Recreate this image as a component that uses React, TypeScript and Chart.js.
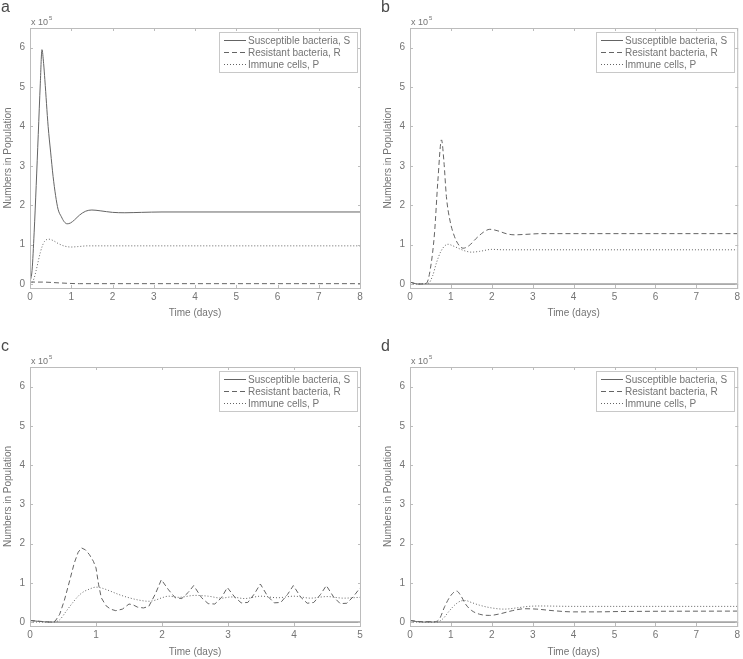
import React, { useEffect, useRef } from 'react';
import { Chart, registerables } from 'chart.js';

Chart.register(...registerables);

type Pt = [number, number];

// ---- shared labels / ticks ----
const SERIES_LABELS = ['Susceptible bacteria, S', 'Resistant bacteria, R', 'Immune cells, P'];
const X_TITLE = 'Time (days)';
const Y_TITLE = 'Numbers in Population';
const Y_TICKS = [0, 1, 2, 3, 4, 5, 6];
const X_TICKS_8 = [0, 1, 2, 3, 4, 5, 6, 7, 8];
const X_TICKS_5 = [0, 1, 2, 3, 4, 5];
const Y_MIN = -0.1;
const Y_MAX = 6.5;
const EXPONENT = '5';

// ---- data (values in units of 10^5), [time (days), value] ----
const A_S: Pt[] = [[0, 0.05], [0.05, 0.35], [0.1, 1.3], [0.15, 2.5], [0.2, 3.8], [0.25, 5.1], [0.29, 5.95], [0.33, 5.6], [0.36, 5.19], [0.44, 4.0], [0.5, 3.35], [0.56, 2.73], [0.62, 2.25], [0.68, 1.9], [0.76, 1.71], [0.83, 1.58], [0.9, 1.53], [0.98, 1.55], [1.08, 1.63], [1.2, 1.75], [1.35, 1.85], [1.5, 1.88], [1.7, 1.86], [2.0, 1.82], [2.3, 1.81], [2.7, 1.82], [3.2, 1.83], [8, 1.83]];
const A_R: Pt[] = [[0, 0.05], [0.3, 0.05], [0.7, 0.03], [1.2, 0.01], [8, 0.01]];
const A_P: Pt[] = [[0, 0], [0.05, 0.03], [0.1, 0.15], [0.15, 0.35], [0.2, 0.58], [0.25, 0.8], [0.3, 0.97], [0.35, 1.08], [0.45, 1.14], [0.55, 1.11], [0.7, 1.02], [0.85, 0.96], [1.0, 0.94], [1.15, 0.95], [1.4, 0.97], [1.8, 0.97], [8, 0.97]];

const B_S: Pt[] = [[0, 0.05], [0.2, 0], [8, 0]];
const B_R: Pt[] = [[0, 0.05], [0.2, 0.0], [0.4, 0.02], [0.5, 0.4], [0.6, 1.3], [0.68, 2.6], [0.77, 3.66], [0.83, 3.1], [0.89, 2.22], [0.98, 1.6], [1.09, 1.2], [1.2, 0.98], [1.3, 0.91], [1.45, 0.98], [1.6, 1.14], [1.8, 1.32], [1.95, 1.39], [2.15, 1.35], [2.35, 1.28], [2.55, 1.25], [2.8, 1.26], [3.2, 1.28], [8, 1.28]];
const B_P: Pt[] = [[0, 0], [0.45, 0.02], [0.55, 0.2], [0.65, 0.55], [0.75, 0.82], [0.85, 0.97], [0.93, 1.01], [1.05, 0.97], [1.2, 0.9], [1.35, 0.84], [1.5, 0.81], [1.7, 0.83], [2.0, 0.88], [2.3, 0.87], [8, 0.87]];

const C_S: Pt[] = [[0, 0.04], [0.3, 0], [5, 0]];
const C_R: Pt[] = [[0, 0.04], [0.15, 0.02], [0.3, 0.0], [0.38, 0.02], [0.45, 0.2], [0.52, 0.55], [0.6, 1.05], [0.67, 1.5], [0.73, 1.78], [0.78, 1.89], [0.84, 1.84], [0.9, 1.72], [0.96, 1.55], [1.0, 1.38], [1.04, 0.95], [1.08, 0.62], [1.15, 0.42], [1.22, 0.33], [1.3, 0.29], [1.4, 0.33], [1.5, 0.46], [1.56, 0.44], [1.63, 0.38], [1.72, 0.36], [1.8, 0.4], [1.9, 0.72], [1.99, 1.08], [2.1, 0.82], [2.2, 0.62], [2.3, 0.6], [2.4, 0.76], [2.48, 0.93], [2.6, 0.62], [2.7, 0.47], [2.8, 0.46], [2.9, 0.62], [2.99, 0.88], [3.1, 0.64], [3.2, 0.49], [3.3, 0.5], [3.4, 0.72], [3.49, 0.97], [3.6, 0.66], [3.7, 0.49], [3.8, 0.5], [3.9, 0.7], [3.99, 0.93], [4.1, 0.64], [4.2, 0.48], [4.3, 0.5], [4.4, 0.7], [4.49, 0.93], [4.6, 0.64], [4.7, 0.47], [4.8, 0.48], [4.9, 0.65], [5.0, 0.87]];
const C_P: Pt[] = [[0, 0], [0.35, 0], [0.45, 0.06], [0.55, 0.28], [0.65, 0.5], [0.73, 0.66], [0.8, 0.76], [0.9, 0.84], [1.0, 0.89], [1.1, 0.86], [1.2, 0.8], [1.35, 0.7], [1.5, 0.62], [1.65, 0.56], [1.8, 0.53], [1.9, 0.56], [2.0, 0.62], [2.1, 0.66], [2.25, 0.63], [2.5, 0.68], [2.7, 0.66], [2.9, 0.61], [3.05, 0.64], [3.25, 0.6], [3.5, 0.66], [3.75, 0.62], [4.0, 0.66], [4.25, 0.61], [4.5, 0.65], [4.75, 0.61], [5.0, 0.63]];

const D_S: Pt[] = [[0, 0.04], [0.3, 0], [8, 0]];
const D_R: Pt[] = [[0, 0.04], [0.3, 0.01], [0.6, 0.01], [0.72, 0.08], [0.85, 0.4], [1.0, 0.68], [1.14, 0.79], [1.25, 0.66], [1.35, 0.47], [1.5, 0.3], [1.7, 0.2], [1.95, 0.17], [2.2, 0.21], [2.5, 0.29], [2.8, 0.34], [3.1, 0.33], [3.5, 0.29], [4.0, 0.26], [4.5, 0.26], [5.2, 0.27], [8, 0.28]];
const D_P: Pt[] = [[0, 0], [0.65, 0], [0.8, 0.08], [0.95, 0.27], [1.1, 0.44], [1.25, 0.54], [1.35, 0.55], [1.5, 0.5], [1.7, 0.43], [2.0, 0.36], [2.3, 0.33], [2.6, 0.36], [2.9, 0.4], [3.2, 0.41], [4.0, 0.4], [8, 0.4]];

// ---- styles ----
const FONT = '"Liberation Sans", Arial, Helvetica, sans-serif';
const TEXT_COLOR = '#747474';
const LINE_COLOR = '#646464';
const AXIS_COLOR = '#bcbcbc';
const LEGEND_BORDER = '#c8c8c8';
const DASHES: number[][] = [[], [5, 3], [1, 2]];

type PanelCfg = {
  letter: string;
  left: number; top: number; w: number; h: number;
  padTop: number; padRight: number; xAxisH: number; xTitlePad: number;
  xMax: number; xTicks: number[];
  series: Pt[][];
  straight: boolean[];
};

const PANELS: PanelCfg[] = [
  { letter: 'a', left: 0, top: 0, w: 372, h: 325, padTop: 28, padRight: 12, xAxisH: 37, xTitlePad: 6, xMax: 8, xTicks: X_TICKS_8, series: [A_S, A_R, A_P], straight: [false, false, false] },
  { letter: 'b', left: 380, top: 0, w: 363, h: 325, padTop: 28, padRight: 4, xAxisH: 37, xTitlePad: 6, xMax: 8, xTicks: X_TICKS_8, series: [B_S, B_R, B_P], straight: [false, false, false] },
  { letter: 'c', left: 0, top: 339, w: 372, h: 320, padTop: 28, padRight: 12, xAxisH: 33, xTitlePad: 1, xMax: 5, xTicks: X_TICKS_5, series: [C_S, C_R, C_P], straight: [false, true, false] },
  { letter: 'd', left: 380, top: 339, w: 363, h: 320, padTop: 28, padRight: 4, xAxisH: 33, xTitlePad: 1, xMax: 8, xTicks: X_TICKS_8, series: [D_S, D_R, D_P], straight: [false, false, false] },
];

const framePlugin = {
  id: 'matlabFrame',
  afterDatasetsDraw(chart: any) {
    const { ctx, chartArea: ca, scales } = chart;
    const xs = scales.x;
    const ys = scales.y;
    ctx.save();
    // box
    ctx.strokeStyle = AXIS_COLOR;
    ctx.lineWidth = 1;
    ctx.setLineDash([]);
    ctx.strokeRect(ca.left + 0.5, ca.top + 0.5, ca.right - ca.left, ca.bottom - ca.top);
    // inward ticks on all four sides
    ctx.beginPath();
    xs.ticks.forEach((t: any) => {
      const p = Math.round(xs.getPixelForValue(t.value)) + 0.5;
      ctx.moveTo(p, ca.bottom); ctx.lineTo(p, ca.bottom - 3);
      ctx.moveTo(p, ca.top); ctx.lineTo(p, ca.top + 3);
    });
    ys.ticks.forEach((t: any) => {
      const p = Math.round(ys.getPixelForValue(t.value)) + 0.5;
      ctx.moveTo(ca.left, p); ctx.lineTo(ca.left + 3, p);
      ctx.moveTo(ca.right + 1, p); ctx.lineTo(ca.right - 2, p);
    });
    ctx.stroke();

    // exponent label "x 10^5"
    ctx.fillStyle = TEXT_COLOR;
    ctx.textBaseline = 'alphabetic';
    ctx.textAlign = 'left';
    ctx.font = `9px ${FONT}`;
    const base = 'x 10';
    ctx.fillText(base, ca.left + 1, ca.top - 3);
    const bw = ctx.measureText(base).width;
    ctx.font = `6px ${FONT}`;
    ctx.fillText(EXPONENT, ca.left + 1 + bw + 1, ca.top - 8.5);

    // legend box (top-right inside)
    const lw = 138, lh = 40;
    const lx = Math.round(ca.right - 3 - lw);
    const ly = Math.round(ca.top + 4);
    ctx.fillStyle = '#ffffff';
    ctx.fillRect(lx, ly, lw, lh);
    ctx.strokeStyle = LEGEND_BORDER;
    ctx.strokeRect(lx + 0.5, ly + 0.5, lw, lh);
    ctx.font = `10px ${FONT}`;
    ctx.textBaseline = 'middle';
    chart.data.datasets.forEach((ds: any, i: number) => {
      const y = ly + 8 + i * 12;
      ctx.strokeStyle = LINE_COLOR;
      ctx.setLineDash(ds.borderDash || []);
      ctx.beginPath();
      ctx.moveTo(lx + 5, y + 0.5);
      ctx.lineTo(lx + 27, y + 0.5);
      ctx.stroke();
      ctx.setLineDash([]);
      ctx.fillStyle = TEXT_COLOR;
      ctx.fillText(ds.label, lx + 29, y + 1);
    });
    ctx.restore();
  },
};

function Panel({ cfg }: { cfg: PanelCfg }) {
  const ref = useRef<HTMLCanvasElement>(null);
  useEffect(() => {
    const canvas = ref.current!;
    const tickFont = { family: FONT, size: 10 };
    const chart = new Chart(canvas, {
      type: 'line',
      data: {
        datasets: cfg.series.map((pts, i) => ({
          label: SERIES_LABELS[i],
          data: pts.map(([x, y]) => ({ x, y })),
          borderColor: LINE_COLOR,
          borderWidth: 1,
          borderDash: DASHES[i],
          pointRadius: 0,
          fill: false,
          tension: 0,
          cubicInterpolationMode: cfg.straight[i] ? 'default' : 'monotone',
        })) as any,
      },
      options: {
        animation: false,
        responsive: false,
        maintainAspectRatio: false,
        devicePixelRatio: 1,
        events: [],
        layout: { padding: { top: cfg.padTop, right: cfg.padRight, left: 0, bottom: 0 } },
        plugins: {
          legend: { display: false },
          tooltip: { enabled: false },
          title: { display: false },
        },
        scales: {
          x: {
            type: 'linear',
            min: 0,
            max: cfg.xMax,
            afterBuildTicks: (s: any) => { s.ticks = cfg.xTicks.map((v) => ({ value: v })); },
            afterFit: (s: any) => { s.height = cfg.xAxisH; },
            grid: { display: false, drawTicks: false },
            border: { display: false },
            ticks: { padding: 3, color: TEXT_COLOR, font: tickFont, maxRotation: 0, autoSkip: false, callback: (v: any) => String(v) },
            title: { display: true, text: X_TITLE, color: TEXT_COLOR, font: tickFont, padding: { top: 0, bottom: cfg.xTitlePad } },
          },
          y: {
            type: 'linear',
            min: Y_MIN,
            max: Y_MAX,
            afterBuildTicks: (s: any) => { s.ticks = Y_TICKS.map((v) => ({ value: v })); },
            afterFit: (s: any) => { s.width = 30; },
            grid: { display: false, drawTicks: false },
            border: { display: false },
            ticks: { padding: 5, color: TEXT_COLOR, font: tickFont, autoSkip: false, callback: (v: any) => String(v) },
            title: { display: true, text: Y_TITLE, color: TEXT_COLOR, font: tickFont, padding: { top: 2, bottom: 0 } },
          },
        },
      } as any,
      plugins: [framePlugin],
    });
    return () => chart.destroy();
  }, [cfg]);
  return (
    <canvas
      ref={ref}
      width={cfg.w}
      height={cfg.h}
      style={{ position: 'absolute', left: cfg.left, top: cfg.top, width: cfg.w, height: cfg.h, display: 'block' }}
    />
  );
}

export default function App() {
  return (
    <div style={{ position: 'absolute', left: 0, top: 0, width: 743, height: 659, overflow: 'hidden', background: '#ffffff' }}>
      {PANELS.map((p) => (
        <Panel key={p.letter} cfg={p} />
      ))}
      {PANELS.map((p) => (
        <div
          key={'l' + p.letter}
          style={{
            position: 'absolute',
            left: p.left + 1,
            top: p.top - 1,
            fontFamily: FONT,
            fontSize: 16,
            lineHeight: '16px',
            color: '#4a4a4a',
          }}
        >
          {p.letter}
        </div>
      ))}
    </div>
  );
}
